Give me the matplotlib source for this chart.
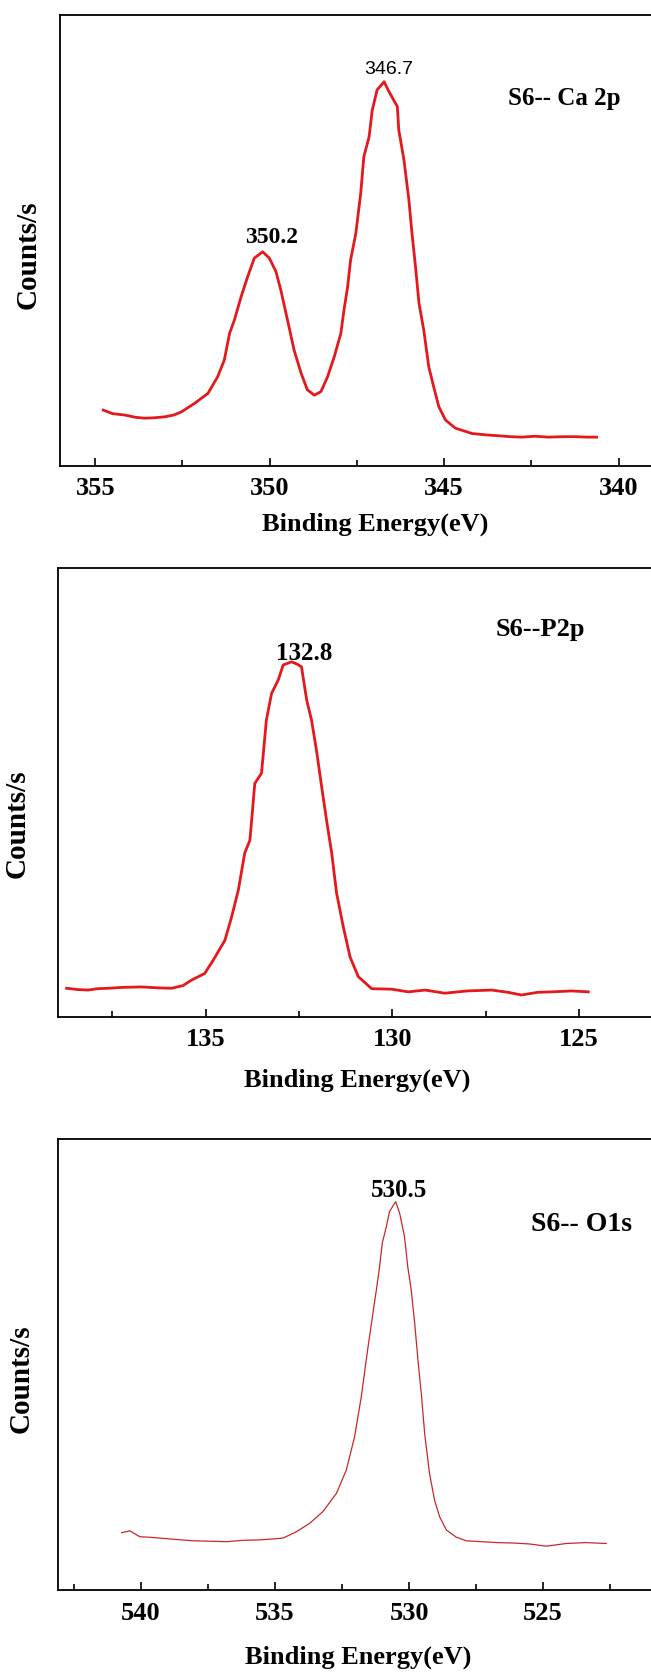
import matplotlib
matplotlib.use("Agg")
import matplotlib.pyplot as plt
from matplotlib.ticker import MultipleLocator, AutoMinorLocator

# ---------------- data ----------------
ca_energy = [354.77, 354.50, 354.15, 353.85, 353.58, 353.30, 353.01, 352.75, 352.53, 352.15,
             351.77, 351.49, 351.30, 351.15, 351.01, 350.82, 350.63, 350.44, 350.20, 350.01,
             349.82, 349.68, 349.49, 349.30, 349.10, 348.92, 348.72, 348.53, 348.34, 348.15,
             347.96, 347.87, 347.77, 347.68, 347.53, 347.39, 347.30, 347.15, 347.06, 346.92,
             346.72, 346.58, 346.34, 346.30, 346.15, 346.01, 345.92, 345.82, 345.72, 345.58,
             345.44, 345.30, 345.15, 344.96, 344.68, 344.20, 343.80, 343.44, 343.10, 342.77,
             342.40, 342.01, 341.60, 341.25, 340.90, 340.63]
ca_counts = [124, 116, 113, 108, 106, 107, 109, 113, 120, 139,
             161, 198, 235, 294, 324, 375, 420, 461, 475, 461,
             431, 390, 324, 257, 206, 169, 157, 165, 198, 242,
             294, 346, 395, 457, 516, 605, 686, 730, 789, 834,
             852, 830, 797, 745, 678, 590, 515, 442, 361, 300,
             220, 176, 131, 102, 84, 72, 69, 67, 65, 64,
             66, 64, 65, 65, 64, 64]

p_energy = [138.72, 138.40, 138.14, 137.90, 137.61, 137.20, 136.72, 136.30, 135.91, 135.60,
            135.38, 135.02, 134.79, 134.48, 134.30, 134.12, 133.95, 133.81, 133.68, 133.50,
            133.37, 133.23, 133.05, 132.92, 132.70, 132.55, 132.43, 132.29, 132.16, 132.03,
            131.89, 131.76, 131.62, 131.49, 131.31, 131.13, 130.91, 130.55, 130.02, 129.57,
            129.12, 128.59, 128.00, 127.34, 126.90, 126.54, 126.10, 125.73, 125.20, 124.75]
p_counts = [64, 61, 60, 63, 64, 66, 67, 65, 64, 70,
            82, 97, 127, 171, 223, 283, 365, 394, 520, 543,
            661, 721, 751, 784, 791, 786, 780, 706, 661, 595,
            513, 439, 365, 276, 201, 134, 90, 63, 62, 56,
            60, 53, 58, 60, 55, 49, 55, 56, 58, 56]

o_energy = [540.72, 540.41, 540.04, 539.70, 539.29, 538.70, 538.05, 537.40, 536.81, 536.20,
            535.57, 535.10, 534.70, 534.20, 533.70, 533.21, 532.71, 532.34, 532.03, 531.78,
            531.53, 531.35, 531.22, 531.10, 531.00, 530.85, 530.73, 530.50, 530.35, 530.17,
            530.05, 529.92, 529.79, 529.67, 529.54, 529.42, 529.24, 529.05, 528.86, 528.61,
            528.24, 527.87, 527.30, 526.75, 526.10, 525.51, 524.89, 524.14, 523.40, 522.65]
o_counts = [126, 130, 117, 116, 114, 111, 108, 107, 106, 109,
            110, 112, 114, 128, 147, 173, 213, 265, 339, 428,
            538, 612, 664, 716, 768, 804, 838, 860, 834, 782,
            716, 664, 590, 509, 432, 346, 258, 198, 161, 132,
            116, 108, 106, 104, 103, 101, 96, 102, 104, 102]

panel_titles = ["S6-- Ca 2p", "S6--P2p", "S6-- O1s"]
peak_labels = [["350.2", "346.7"], ["132.8"], ["530.5"]]
x_label = "Binding Energy(eV)"
y_label = "Counts/s"

# ---------------- figure ----------------
W, H = 651, 1675
fig = plt.figure(figsize=(W / 100, H / 100), dpi=100)
SERIF = "Liberation Serif"


def add_axes(left_px, top_px, bottom_px):
    return fig.add_axes([left_px / W, 1 - bottom_px / H,
                         1 - left_px / W, (bottom_px - top_px) / H])


def style(ax, xlim, pad):
    ax.set_xlim(*xlim)
    ax.set_ylim(0, 1000)
    ax.set_yticks([])
    ax.spines['right'].set_visible(False)
    for s in ['left', 'top', 'bottom']:
        ax.spines[s].set_linewidth(1.3)
    ax.xaxis.set_major_locator(MultipleLocator(5))
    ax.xaxis.set_minor_locator(AutoMinorLocator(2))
    ax.tick_params(axis='x', which='both', direction='in', top=False, width=1.2,
                   pad=pad)
    ax.tick_params(axis='x', which='major', length=6)
    ax.tick_params(axis='x', which='minor', length=4)
    for lab in ax.get_xticklabels():
        lab.set_fontfamily(SERIF)
        lab.set_fontweight('bold')
        lab.set_fontsize(19)


# Panel 1: Ca 2p
ax1 = add_axes(60, 15, 466)
ax1.plot(ca_energy, ca_counts, color='#e3191c', lw=2.0)
style(ax1, (356.01, 339.07), 8)
ax1.text(349.96, 494, peak_labels[0][0], ha='center', va='baseline',
         fontfamily=SERIF, fontweight='bold', fontsize=17)
ax1.text(346.58, 869, peak_labels[0][1], ha='center', va='baseline',
         fontfamily='Liberation Sans', fontsize=14)
ax1.text(0.758, 0.800, panel_titles[0], transform=ax1.transAxes, ha='left',
         va='baseline', fontfamily=SERIF, fontweight='bold', fontsize=18)
ax1.set_xlabel(x_label, fontfamily=SERIF, fontweight='bold', fontsize=19)
ax1.xaxis.set_label_coords(0.533, -0.103)
ax1.set_ylabel(y_label, fontfamily=SERIF, fontweight='bold', fontsize=21)
ax1.yaxis.set_label_coords(-0.031, 0.468)

# Panel 2: P 2p
ax2 = add_axes(58, 568, 1017)
ax2.plot(p_energy, p_counts, color='#e3191c', lw=2.0)
style(ax2, (138.95, 123.07), 8)
ax2.text(132.36, 796, peak_labels[1][0], ha='center', va='baseline',
         fontfamily=SERIF, fontweight='bold', fontsize=18)
ax2.text(0.7386, 0.8486, panel_titles[1], transform=ax2.transAxes, ha='left',
         va='baseline', fontfamily=SERIF, fontweight='bold', fontsize=19)
ax2.set_xlabel(x_label, fontfamily=SERIF, fontweight='bold', fontsize=19)
ax2.xaxis.set_label_coords(0.504, -0.115)
ax2.set_ylabel(y_label, fontfamily=SERIF, fontweight='bold', fontsize=21)
ax2.yaxis.set_label_coords(-0.0455, 0.430)

# Panel 3: O 1s
ax3 = add_axes(58, 1138.5, 1589.5)
ax3.plot(o_energy, o_counts, color='#c8282a', lw=0.9)
style(ax3, (543.09, 520.98), 9)
ax3.text(530.39, 870, peak_labels[2][0], ha='center', va='baseline',
         fontfamily=SERIF, fontweight='bold', fontsize=18)
ax3.text(0.797, 0.794, panel_titles[2], transform=ax3.transAxes, ha='left',
         va='baseline', fontfamily=SERIF, fontweight='bold', fontsize=20)
ax3.set_xlabel(x_label, fontfamily=SERIF, fontweight='bold', fontsize=19)
ax3.xaxis.set_label_coords(0.506, -0.125)
ax3.set_ylabel(y_label, fontfamily=SERIF, fontweight='bold', fontsize=21)
ax3.yaxis.set_label_coords(-0.0388, 0.467)

fig.savefig("out.png", dpi=100)
